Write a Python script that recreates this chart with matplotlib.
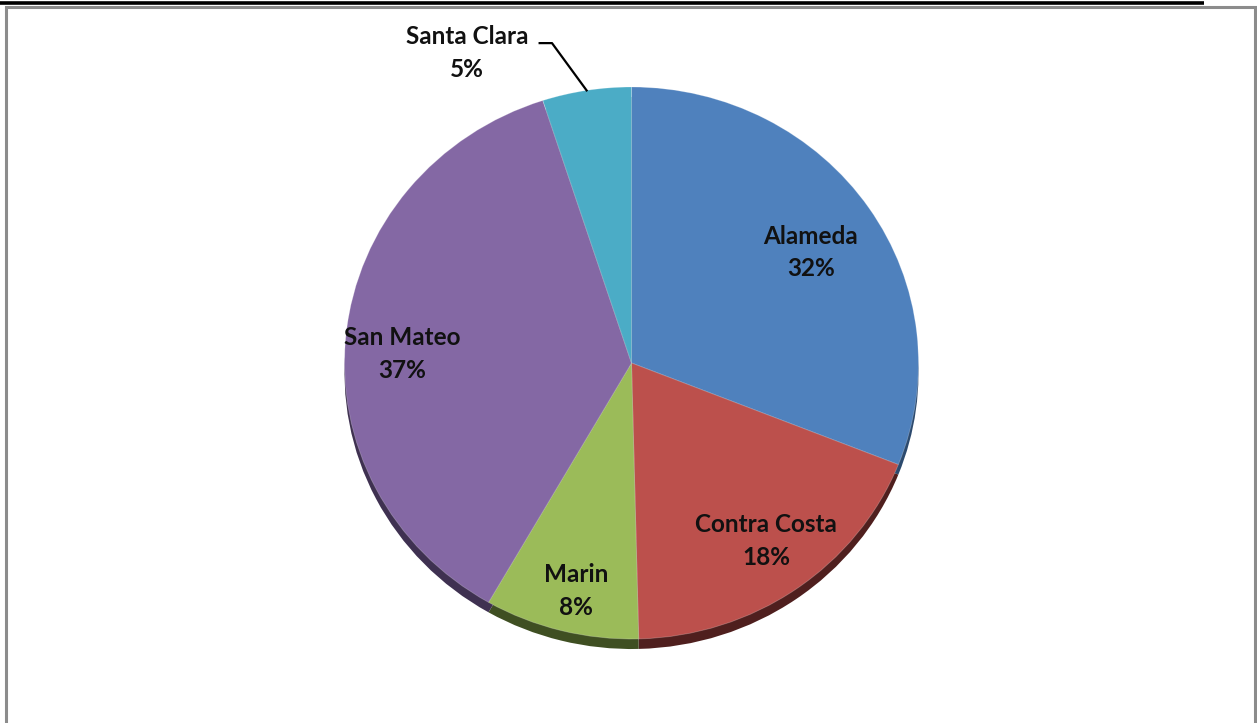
import numpy as np
import matplotlib
matplotlib.use("Agg")
import matplotlib.pyplot as plt

# slice data, clockwise from 12 o'clock
counties = ['Alameda', 'Contra Costa', 'Marin', 'San Mateo', 'Santa Clara']
shares = [31.0, 18.6, 8.7, 36.7, 5.0]          # wedge sizes
pct_labels = ['32%', '18%', '8%', '37%', '5%']   # percentages as printed
top_colors = ['#4F81BD', '#BC504C', '#9BBB59', '#8468A4', '#4BACC6']
side_colors = ['#2C4A6E', '#4F1F1E', '#3F4F22', '#3F3151', '#215F6E']
# label block centres, in pie radius units
label_xy = [(0.625, 0.40), (0.469, -0.645), (-0.193, -0.826), (-0.80, 0.033), (-0.573, 1.123)]

W, H = 1257, 723
fig = plt.figure(figsize=(W / 100, H / 100), dpi=100)
plt.rcParams['font.family'] = ['Lato', 'DejaVu Sans']

# page frame in pixel coordinates
bg = fig.add_axes([0, 0, 1, 1])
bg.set_xlim(0, W)
bg.set_ylim(H, 0)
bg.axis('off')
bg.plot([0, 1204], [2.5, 2.5], color='black', lw=2.6, solid_capstyle='butt')
bg.plot([5.5, 5.5, 1254.5, 1254.5], [H + 5, 7, 7, H + 5], color='#8C8C8C', lw=2.2,
        solid_joinstyle='miter')

# pie axes: elliptical top face
cx, cy, rx, ry = 631.5, 363, 287, 276
ax = fig.add_axes([(cx - rx) / W, 1 - (cy + ry) / H, 2 * rx / W, 2 * ry / H])
depth = 10 / ry

ax.pie(shares, colors=side_colors, startangle=90, counterclock=False,
       center=(0, -depth), radius=1, wedgeprops=dict(linewidth=0))
wedges, _ = ax.pie(shares, colors=top_colors, startangle=90, counterclock=False,
                   radius=1, wedgeprops=dict(linewidth=0.6, edgecolor=(1, 1, 1, 0.25)))
ax.set_aspect('auto')
ax.set_xlim(-1, 1)
ax.set_ylim(-1, 1)
ax.axis('off')

tkw = dict(ha='center', va='center', fontsize=17.5, fontweight='bold', color='#111111',
           linespacing=1.5, clip_on=False)
for w, name, pct, (lx, ly) in zip(wedges, counties, pct_labels, label_xy):
    ax.text(lx, ly, f'{name}\n{pct}', **tkw)

# leader line for the small slice
mid = np.deg2rad((wedges[-1].theta1 + wedges[-1].theta2) / 2)
ax.plot([-0.32, -0.277, np.cos(mid)], [1.159, 1.159, np.sin(mid)], color='black',
        lw=1.6, clip_on=False)

fig.savefig('out.png', dpi=100)
